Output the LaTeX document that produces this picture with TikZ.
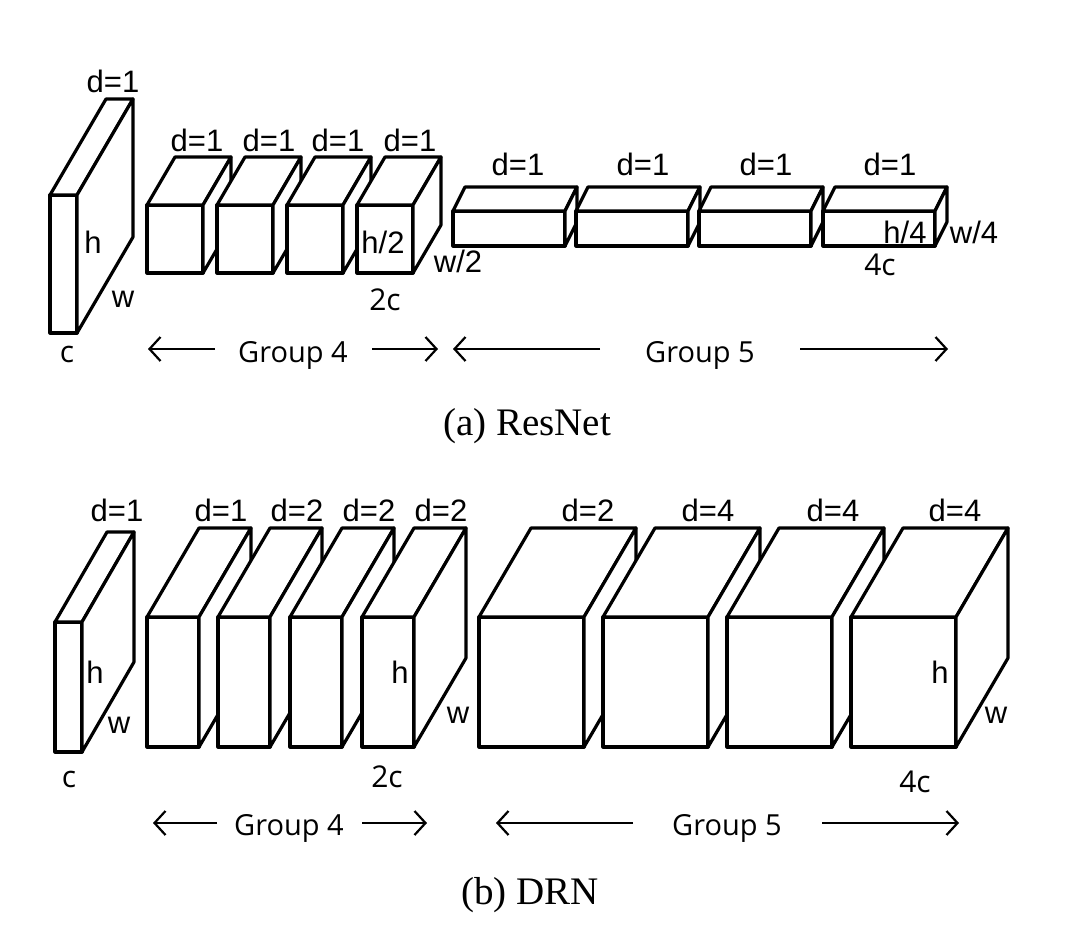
\documentclass[tikz,border=0pt]{standalone}
\usepackage{fontspec}
\usetikzlibrary{arrows.meta}
\newfontfamily\labfont{Liberation Sans}
\newfontfamily\grpfont{Open Sans}
\newfontfamily\capfont{Liberation Serif}
\newcommand{\cub}[6]{%
  \filldraw[boxline] (#1,#2) rectangle (#1+#3,#2+#4);
  \filldraw[boxline] (#1,#2) -- (#1+#5,#2-#6) -- (#1+#3+#5,#2-#6) -- (#1+#3,#2) -- cycle;
  \filldraw[boxline] (#1+#3,#2) -- (#1+#3+#5,#2-#6) -- (#1+#3+#5,#2+#4-#6) -- (#1+#3,#2+#4) -- cycle;
}
\tikzset{
  boxline/.style={draw=black, fill=white, line width=3.2pt, line join=round},
  lab/.style={anchor=base, inner sep=0pt, font=\labfont\fontsize{31}{36}\selectfont},
  dim/.style={anchor=base, inner sep=0pt, font=\grpfont\fontsize{30}{34}\selectfont},
  grp/.style={anchor=base, inner sep=0pt, font=\grpfont\fontsize{29}{34}\selectfont},
  capt/.style={anchor=base, inner sep=0pt, font=\capfont\fontsize{39}{44}\selectfont},
  arr/.style={line width=2.2pt, -{Straight Barb[length=11pt,width=24pt,line width=2.2pt]}}
}
\begin{document}
\begin{tikzpicture}[x=1pt,y=-1pt]
\useasboundingbox (0,0) rectangle (1092,932);
\fill[white] (0,0) rectangle (1092,932);

% ---------------- (a) ResNet ----------------
\cub{50}{195}{27}{138}{56}{96}
\cub{147}{205}{56}{68}{28}{48}
\cub{217}{205}{56}{68}{28}{48}
\cub{287}{205}{56}{68}{28}{48}
\cub{357}{205}{56}{68}{28}{48}
\cub{453}{211}{112}{35}{12}{24}
\cub{576}{211}{112}{35}{12}{24}
\cub{699}{211}{112}{35}{12}{24}
\cub{823}{211}{112}{35}{12}{24}

\node[lab] (ad0) at (113,92) {d=1};
\node[lab] (ad1) at (197,151) {d=1};
\node[lab] (ad2) at (269,151) {d=1};
\node[lab] (ad3) at (338,151) {d=1};
\node[lab] (ad4) at (410,151) {d=1};
\node[lab] (ad5) at (518,175) {d=1};
\node[lab] (ad6) at (643,175) {d=1};
\node[lab] (ad7) at (766,175) {d=1};
\node[lab] (ad8) at (890,175) {d=1};

\node[lab] (ah) at (93,253) {h};
\node[lab] (aw) at (123,307) {w};
\node[dim] (ac) at (67,362) {c};
\node[lab] (ah2) at (383,253) {h/2};
\node[lab] (aw2) at (458,272) {w/2};
\node[dim] (a2c) at (385,310) {2c};
\node[lab] (ah4) at (905,243) {h/4};
\node[lab] (aw4) at (974,243) {w/4};
\node[dim] (a4c) at (880,275) {4c};

\node[grp] (ag4) at (293,362) {Group 4};
\node[grp] (ag5) at (700,362) {Group 5};
\coordinate (ag4ls) at (215,349); \coordinate (ag4le) at (148,349);
\coordinate (ag4rs) at (372,349); \coordinate (ag4re) at (438,349);
\coordinate (ag5ls) at (600,349); \coordinate (ag5le) at (453,349);
\coordinate (ag5rs) at (800,349); \coordinate (ag5re) at (948,349);
\draw[arr] (ag4ls) -- (ag4le);
\draw[arr] (ag4rs) -- (ag4re);
\draw[arr] (ag5ls) -- (ag5le);
\draw[arr] (ag5rs) -- (ag5re);

\node[capt] (capa) at (527,435) {(a) ResNet};

% ---------------- (b) DRN ----------------
\cub{55}{622}{27}{130}{52}{90}
\cub{147}{617}{52}{130}{52}{89}
\cub{218}{617}{52}{130}{52}{89}
\cub{290}{617}{52}{130}{52}{89}
\cub{362}{617}{52}{130}{52}{89}
\cub{479}{617}{105}{130}{52}{89}
\cub{603}{617}{105}{130}{52}{89}
\cub{727}{617}{105}{130}{52}{89}
\cub{851}{617}{105}{130}{52}{89}

\node[lab] (bd0) at (117,521) {d=1};
\node[lab] (bd1) at (221,521) {d=1};
\node[lab] (bd2) at (297,521) {d=2};
\node[lab] (bd3) at (369,521) {d=2};
\node[lab] (bd4) at (441,521) {d=2};
\node[lab] (bd5) at (588,521) {d=2};
\node[lab] (bd6) at (708,521) {d=4};
\node[lab] (bd7) at (833,521) {d=4};
\node[lab] (bd8) at (955,521) {d=4};

\node[lab] (bh) at (95,683) {h};
\node[lab] (bw) at (119,733) {w};
\node[dim] (bc) at (69,787) {c};
\node[lab] (bh2) at (400,683) {h};
\node[lab] (bw2) at (458,723) {w};
\node[dim] (b2c) at (387,787) {2c};
\node[lab] (bh4) at (940,683) {h};
\node[lab] (bw4) at (996,723) {w};
\node[dim] (b4c) at (915,792) {4c};

\node[grp] (bg4) at (289,835) {Group 4};
\node[grp] (bg5) at (727,835) {Group 5};
\coordinate (bg4ls) at (217,823); \coordinate (bg4le) at (153,823);
\coordinate (bg4rs) at (362,823); \coordinate (bg4re) at (427,823);
\coordinate (bg5ls) at (633,823); \coordinate (bg5le) at (496,823);
\coordinate (bg5rs) at (822,823); \coordinate (bg5re) at (959,823);
\draw[arr] (bg4ls) -- (bg4le);
\draw[arr] (bg4rs) -- (bg4re);
\draw[arr] (bg5ls) -- (bg5le);
\draw[arr] (bg5rs) -- (bg5re);

\node[capt] (capb) at (530,904) {(b) DRN};
\end{tikzpicture}
\end{document}
